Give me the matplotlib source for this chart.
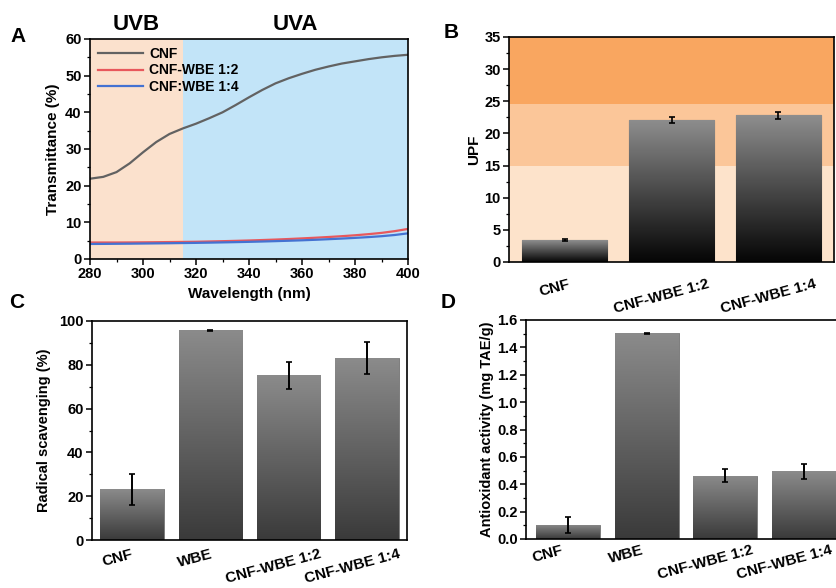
import numpy as np
import matplotlib
matplotlib.use("Agg")
import matplotlib.pyplot as plt
from matplotlib.colors import LinearSegmentedColormap
from matplotlib.ticker import MultipleLocator
from matplotlib.transforms import ScaledTranslation

plt.rcParams['font.family'] = ['Liberation Sans', 'DejaVu Sans']
plt.rcParams['font.weight'] = 'bold'
plt.rcParams['axes.labelweight'] = 'bold'
plt.rcParams['axes.linewidth'] = 1.2

# panel A: transmittance spectra
wavelength = [280, 285, 290, 295, 300, 305, 310, 315, 320, 325, 330, 335, 340, 345, 350,
              355, 360, 365, 370, 375, 380, 385, 390, 395, 400]
t_cnf = [21.9, 22.4, 23.7, 26.1, 29.1, 31.9, 34.1, 35.6, 36.9, 38.4, 40.0, 42.0, 44.1, 46.1,
         47.9, 49.3, 50.5, 51.6, 52.5, 53.3, 53.9, 54.5, 55.0, 55.4, 55.7]
t_wbe12 = [4.5, 4.5, 4.5, 4.52, 4.55, 4.58, 4.62, 4.66, 4.7, 4.78, 4.86, 4.95, 5.05, 5.17, 5.3,
           5.45, 5.62, 5.8, 6.0, 6.22, 6.47, 6.77, 7.12, 7.6, 8.2]
t_wbe14 = [4.1, 4.12, 4.15, 4.18, 4.22, 4.26, 4.3, 4.35, 4.4, 4.46, 4.53, 4.6, 4.68, 4.77, 4.87,
           4.98, 5.1, 5.24, 5.4, 5.57, 5.76, 5.97, 6.22, 6.55, 7.0]

# panel B: UPF
upf_labels = ['CNF', 'CNF-WBE 1:2', 'CNF-WBE 1:4']
upf = [3.4, 22.1, 22.8]
upf_err = [0.15, 0.5, 0.6]

# panel C: radical scavenging
samples = ['CNF', 'WBE', 'CNF-WBE 1:2', 'CNF-WBE 1:4']
scav = [23.1, 95.7, 75.2, 83.1]
scav_err = [7.2, 0.4, 6.1, 7.4]

# panel D: antioxidant activity
antiox = [0.105, 1.503, 0.462, 0.494]
antiox_err = [0.058, 0.005, 0.046, 0.053]

W, H = 836, 588
fig = plt.figure(figsize=(W / 100, H / 100), dpi=100)


def px_axes(x0, y0, x1, y1):
    # pixel box (top-left origin) -> figure axes
    return fig.add_axes([x0 / W, 1 - y1 / H, (x1 - x0) / W, (y1 - y0) / H])


def style(ax):
    ax.tick_params(direction='out', length=4, width=1.1, labelsize=10.5, pad=2)
    ax.tick_params(which='minor', direction='out', length=2, width=0.9)
    ax.tick_params(top=False, right=False)
    for lab in ax.get_xticklabels() + ax.get_yticklabels():
        lab.set_fontweight('bold')


def cat_labels(ax, labels, dx, pad):
    ax.set_xticklabels(labels, rotation=15, fontsize=11, fontweight='bold')
    ax.tick_params(axis='x', length=0, pad=pad)
    off = ScaledTranslation(dx / 100, 0, fig.dpi_scale_trans)
    for lab in ax.get_xticklabels():
        lab.set_transform(lab.get_transform() + off)


def gradient_bars(ax, bars, top_col, bot_col):
    cmap = LinearSegmentedColormap.from_list('g', [bot_col, top_col])
    grad = np.linspace(0, 1, 256).reshape(-1, 1)
    for b in bars:
        x, y = b.get_x(), b.get_y()
        w, h = b.get_width(), b.get_height()
        im = ax.imshow(grad, cmap=cmap, aspect='auto', origin='lower',
                       extent=[x, x + w, y, y + h], zorder=2)
        im.set_clip_path(b)
        b.set_facecolor('none')


# ---- A ----
axA = px_axes(90, 39, 408, 259)
axA.axvspan(280, 315, color='#fbe1cd', zorder=0, lw=0)
axA.axvspan(315, 400, color='#c2e4f8', zorder=0, lw=0)
axA.plot(wavelength, t_cnf, color='#626262', lw=1.6, label='CNF')
axA.plot(wavelength, t_wbe12, color='#e8585c', lw=1.6, label='CNF-WBE 1:2')
axA.plot(wavelength, t_wbe14, color='#4472d2', lw=1.6, label='CNF:WBE 1:4')
axA.set_xlim(280, 400)
axA.set_ylim(0, 60)
axA.xaxis.set_major_locator(MultipleLocator(20))
axA.xaxis.set_minor_locator(MultipleLocator(10))
axA.yaxis.set_major_locator(MultipleLocator(10))
axA.yaxis.set_minor_locator(MultipleLocator(5))
axA.set_xlabel('Wavelength (nm)', fontsize=11, labelpad=4)
axA.set_ylabel('Transmittance (%)', fontsize=11, labelpad=4)
leg = axA.legend(loc='upper left', frameon=False, fontsize=10, handlelength=3.3,
                 borderaxespad=0.15, labelspacing=0.2, handletextpad=0.4)
for t in leg.get_texts():
    t.set_fontweight('bold')
axA.text(297.5, 61, 'UVB', ha='center', va='bottom', fontsize=16, fontweight='bold')
axA.text(357.5, 61, 'UVA', ha='center', va='bottom', fontsize=16, fontweight='bold')
style(axA)

# ---- B ----
axB = px_axes(509, 37, 834, 262)
axB.axhspan(0, 15, color='#fde3cb', zorder=0, lw=0)
axB.axhspan(15, 24.6, color='#fbc699', zorder=0, lw=0)
axB.axhspan(24.6, 35, color='#f9a660', zorder=0, lw=0)
xb = np.arange(len(upf))
bars = axB.bar(xb, upf, width=0.8, edgecolor='#555555', lw=0.8, zorder=2)
gradient_bars(axB, bars, '#8e8e8e', '#050505')
axB.errorbar(xb, upf, yerr=upf_err, fmt='none', ecolor='black', elinewidth=1.2,
             capsize=2.5, capthick=1.2, zorder=3)
axB.set_xlim(-0.52, 2.52)
axB.set_ylim(0, 35)
axB.yaxis.set_major_locator(MultipleLocator(5))
axB.yaxis.set_minor_locator(MultipleLocator(2.5))
axB.set_xticks(xb)
axB.set_ylabel('UPF', fontsize=11, labelpad=2)
style(axB)
cat_labels(axB, upf_labels, -10, 11)

# ---- C ----
axC = px_axes(92, 321, 407, 540)
xc = np.arange(len(scav))
bars = axC.bar(xc, scav, width=0.81, edgecolor='#666666', lw=0.6, zorder=2)
gradient_bars(axC, bars, '#8b8b8b', '#3a3a3a')
axC.errorbar(xc, scav, yerr=scav_err, fmt='none', ecolor='black', elinewidth=1.4,
             capsize=2.5, capthick=1.2, zorder=3)
axC.set_xlim(-0.51, 3.51)
axC.set_ylim(0, 100)
axC.yaxis.set_major_locator(MultipleLocator(20))
axC.yaxis.set_minor_locator(MultipleLocator(10))
axC.set_xticks(xc)
axC.set_ylabel('Radical scavenging (%)', fontsize=10.5, labelpad=6)
style(axC)
cat_labels(axC, samples, -15, 5)

# ---- D ---- (right edge cut off in the original)
axD = px_axes(526, 320, 846, 539)
xd = np.arange(len(antiox))
bars = axD.bar(xd, antiox, width=0.81, edgecolor='#666666', lw=0.6, zorder=2)
gradient_bars(axD, bars, '#8b8b8b', '#3a3a3a')
axD.errorbar(xd, antiox, yerr=antiox_err, fmt='none', ecolor='black', elinewidth=1.4,
             capsize=2.5, capthick=1.2, zorder=3)
axD.set_xlim(-0.53, 3.53)
axD.set_ylim(0, 1.6)
axD.yaxis.set_major_locator(MultipleLocator(0.2))
axD.yaxis.set_minor_locator(MultipleLocator(0.1))
axD.yaxis.set_major_formatter(plt.FormatStrFormatter('%.1f'))
axD.set_xticks(xd)
axD.set_ylabel('Antioxidant activity (mg TAE/g)', fontsize=10.5, labelpad=2)
style(axD)
cat_labels(axD, samples, -20, 3)

# panel letters
for lbl, x, y in [('A', 18, 36), ('B', 451, 33), ('C', 17, 302), ('D', 448, 302)]:
    fig.text(x / W, 1 - y / H, lbl, fontsize=15, fontweight='bold', ha='center', va='center')

fig.savefig('out.png', dpi=100)
